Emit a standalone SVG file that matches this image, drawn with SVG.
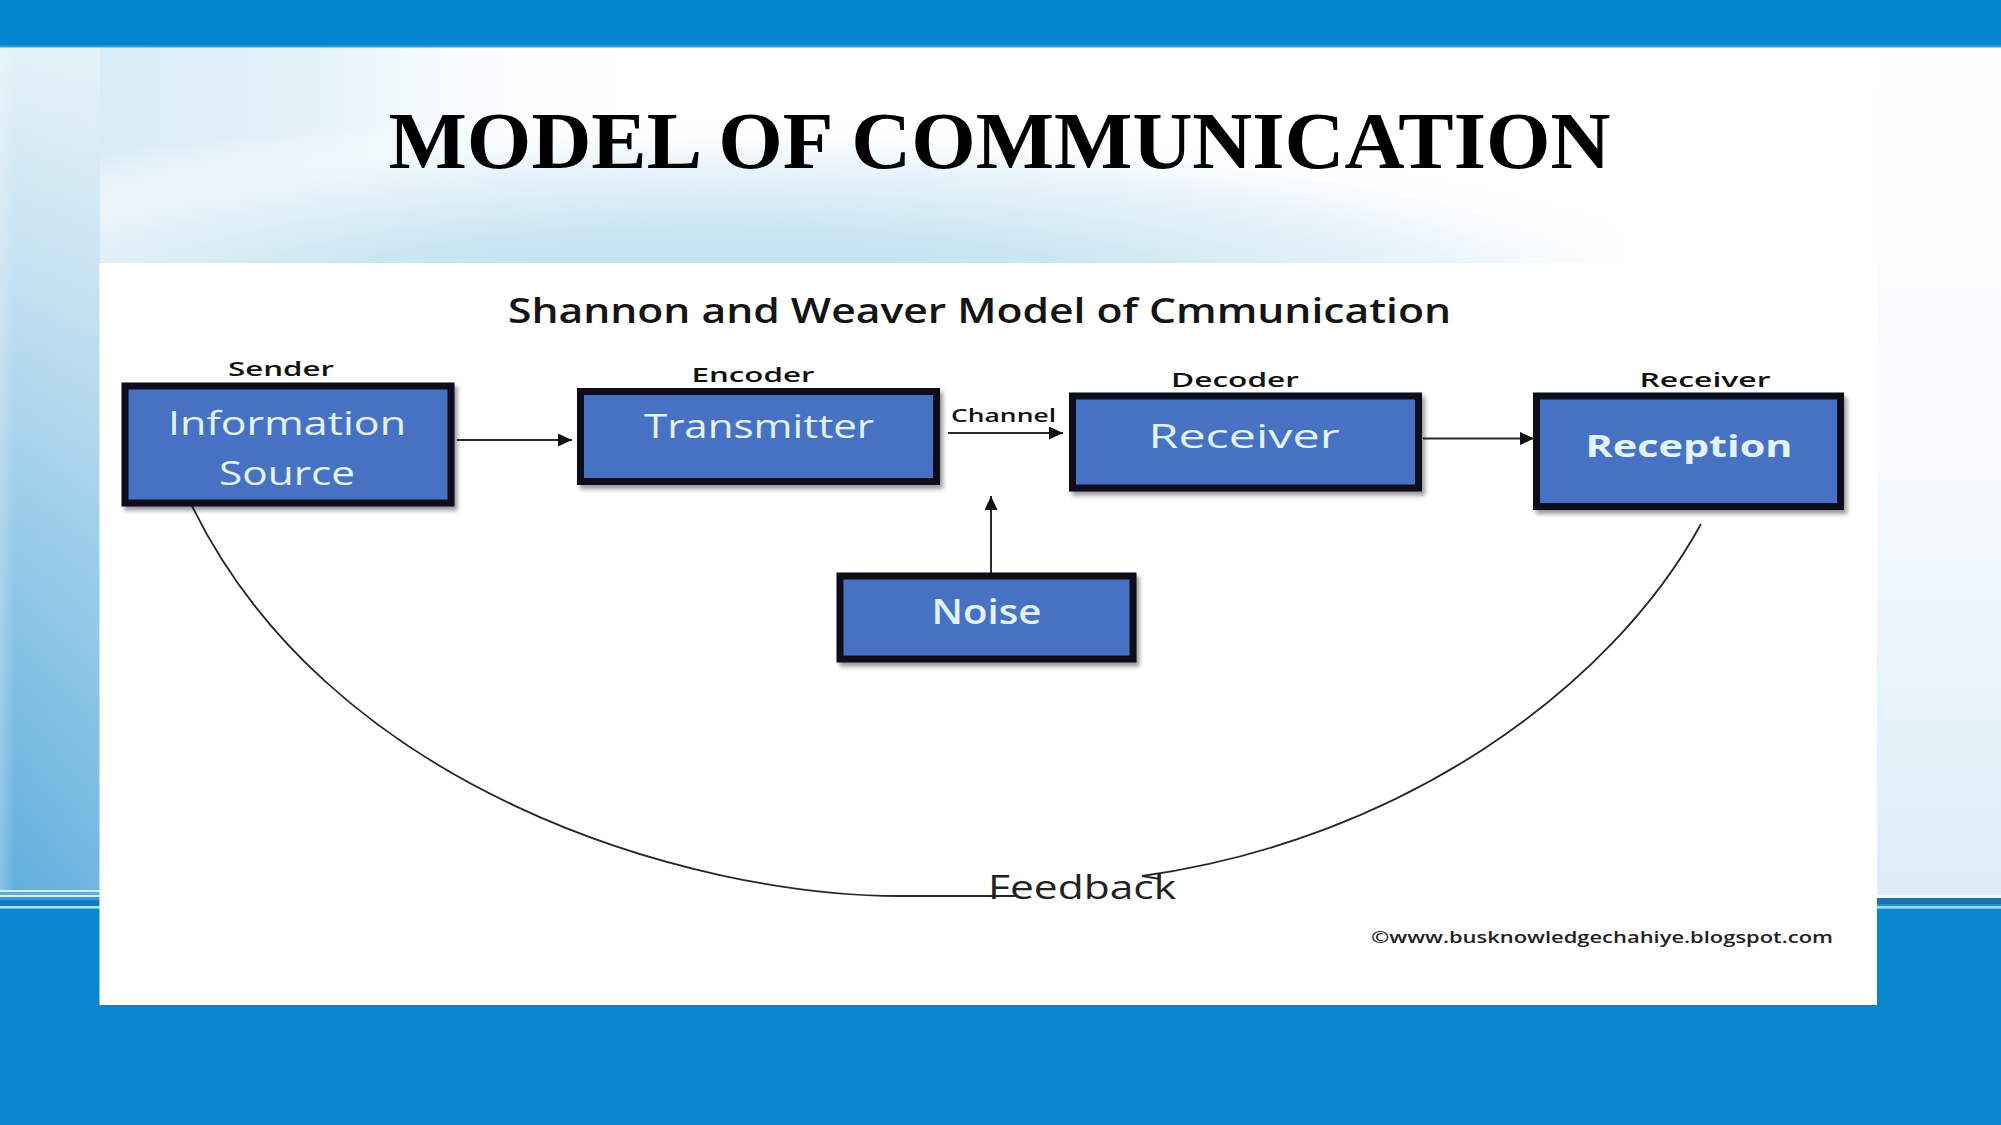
<svg xmlns="http://www.w3.org/2000/svg" width="2001" height="1125" viewBox="0 0 2001 1125">
  <style>
    .box { fill: #4672c4; stroke: #0c0c1e; stroke-width: 7; filter: url(#shadow); }
    .boxtxt { font-family: "Open Sans", "Liberation Sans", sans-serif; fill: #e3f3fb; text-anchor: middle; }
    .lbl { font-family: "Open Sans", "Liberation Sans", sans-serif; font-weight: 600; fill: #111; text-anchor: middle; font-size: 20px; }
    .conn { stroke: #2a2a2a; stroke-width: 2; fill: none; }
    .fb { stroke: #262626; stroke-width: 1.8; fill: none; }
  </style>
  <defs>
    <marker id="arrow" markerUnits="userSpaceOnUse" markerWidth="15" markerHeight="13" refX="14" refY="6.5" orient="auto">
      <path d="M0,0 L14,6.5 L0,13 z" fill="#111"/>
    </marker>
    <filter id="shadow" x="-10%" y="-10%" width="125%" height="130%">
      <feDropShadow dx="3" dy="4" stdDeviation="2" flood-color="#000" flood-opacity="0.4"/>
    </filter>
    <radialGradient id="wash" cx="0.44" cy="0.88" r="0.64">
      <stop offset="0" stop-color="#b9ddef"/>
      <stop offset="0.4" stop-color="#cbe6f3"/>
      <stop offset="0.75" stop-color="#eaf5fb"/>
      <stop offset="1" stop-color="#ffffff" stop-opacity="0"/>
    </radialGradient>
    <linearGradient id="topLeft" x1="0" y1="0" x2="1" y2="0">
      <stop offset="0" stop-color="#d2e9f5"/>
      <stop offset="0.5" stop-color="#e6f3fa"/>
      <stop offset="1" stop-color="#ffffff" stop-opacity="0"/>
    </linearGradient>
    <linearGradient id="leftStrip" x1="0" y1="0" x2="0" y2="1">
      <stop offset="0" stop-color="#e4f2f9"/>
      <stop offset="0.25" stop-color="#c6e2f1"/>
      <stop offset="0.6" stop-color="#93c9e7"/>
      <stop offset="1" stop-color="#62afdd"/>
    </linearGradient>
    <linearGradient id="leftFade" x1="0" y1="0" x2="1" y2="0">
      <stop offset="0" stop-color="#ffffff" stop-opacity="0.25"/>
      <stop offset="0.15" stop-color="#ffffff" stop-opacity="0"/>
      <stop offset="1" stop-color="#ffffff" stop-opacity="0.1"/>
    </linearGradient>
    <linearGradient id="rightStrip" x1="0" y1="0" x2="0" y2="1">
      <stop offset="0" stop-color="#ffffff"/>
      <stop offset="0.5" stop-color="#f6fafd"/>
      <stop offset="1" stop-color="#dcedf8"/>
    </linearGradient>
  </defs>

  <!-- background -->
  <rect x="0" y="0" width="2001" height="1125" fill="#ffffff"/>
  <rect x="0" y="47" width="650" height="300" fill="url(#topLeft)"/>
  <rect x="0" y="47" width="1620" height="290" fill="url(#wash)"/>
  <rect x="0" y="47" width="100" height="843" fill="url(#leftStrip)"/>
  <rect x="0" y="47" width="100" height="843" fill="url(#leftFade)"/>
  <rect x="1877" y="47" width="124" height="850" fill="url(#rightStrip)"/>

  <!-- top bar -->
  <rect x="0" y="0" width="2001" height="47" fill="#0385cf"/>
  <rect x="0" y="45.5" width="2001" height="2" fill="#3c9fd9"/>

  <!-- bottom stripes left -->
  <rect x="0" y="890" width="100" height="2" fill="#cdeefa"/>
  <rect x="0" y="892" width="100" height="3" fill="#62acd9"/>
  <rect x="0" y="895" width="100" height="2" fill="#d2f1fb"/>
  <rect x="0" y="897" width="100" height="3" fill="#3d98d0"/>
  <rect x="0" y="900" width="100" height="6" fill="#0d7cc4"/>
  <rect x="0" y="906" width="100" height="2.5" fill="#a7e6f8"/>
  <!-- bottom stripes right -->
  <rect x="1877" y="895" width="124" height="3" fill="#f5fbfe"/>
  <rect x="1877" y="898" width="124" height="6" fill="#1b74ae"/>
  <rect x="1877" y="904" width="124" height="2" fill="#2a8bc7"/>
  <rect x="1877" y="906" width="124" height="2.5" fill="#93def4"/>
  <!-- bottom band -->
  <rect x="0" y="908.5" width="2001" height="216.5" fill="#0886ce"/>

  <!-- slide title -->
  <text x="999.5" y="168" font-family="'Liberation Serif', 'Times New Roman', serif" font-weight="bold" font-size="81" text-anchor="middle" textLength="1222" lengthAdjust="spacingAndGlyphs" fill="#000">MODEL OF COMMUNICATION</text>

  <!-- picture panel -->
  <rect x="99.5" y="263" width="1777.5" height="742" fill="#ffffff"/>

  <text x="979.5" y="323" font-family="'Open Sans', 'Liberation Sans', sans-serif" font-weight="600" font-size="35" text-anchor="middle" textLength="943" lengthAdjust="spacingAndGlyphs" fill="#141414">Shannon and Weaver Model of Cmmunication</text>

  <!-- connectors -->
  <g id="connectors">
    <line class="conn" x1="457" y1="440" x2="572" y2="440" marker-end="url(#arrow)"/>
    <line class="conn" x1="948" y1="433" x2="1063" y2="433" marker-end="url(#arrow)"/>
    <line class="conn" x1="1423" y1="438.5" x2="1534" y2="438.5" marker-end="url(#arrow)"/>
    <line class="conn" x1="991" y1="573" x2="991" y2="496" marker-end="url(#arrow)"/>
    <path class="fb" d="M185,491 C320,790 690,896 900,896 L1015,896"/>
    <path class="fb" d="M1701,524 C1610,690 1400,840 1142,876 L1160,879"/>
  </g>

  <!-- nodes -->
  <g id="node-sender">
    <text class="lbl" x="281" y="376" textLength="106" lengthAdjust="spacingAndGlyphs">Sender</text>
    <rect class="box" x="125" y="386" width="326" height="117"/>
    <text class="boxtxt" x="287" y="435" font-size="32" textLength="238" lengthAdjust="spacingAndGlyphs">Information</text>
    <text class="boxtxt" x="287" y="485" font-size="32" textLength="136" lengthAdjust="spacingAndGlyphs">Source</text>
  </g>

  <g id="node-encoder">
    <text class="lbl" x="753" y="382" textLength="123" lengthAdjust="spacingAndGlyphs">Encoder</text>
    <rect class="box" x="580.5" y="391.5" width="356" height="90"/>
    <text class="boxtxt" x="759" y="438" font-size="32" textLength="230" lengthAdjust="spacingAndGlyphs">Transmitter</text>
  </g>

  <g id="label-channel">
    <text class="lbl" x="1003.5" y="422" style="font-size:18px" textLength="105" lengthAdjust="spacingAndGlyphs">Channel</text>
  </g>

  <g id="node-decoder">
    <text class="lbl" x="1235" y="387" textLength="128" lengthAdjust="spacingAndGlyphs">Decoder</text>
    <rect class="box" x="1072.5" y="396" width="346" height="92"/>
    <text class="boxtxt" x="1244" y="448" font-size="33" textLength="191" lengthAdjust="spacingAndGlyphs">Receiver</text>
  </g>

  <g id="node-receiver">
    <text class="lbl" x="1705" y="387" textLength="131" lengthAdjust="spacingAndGlyphs">Receiver</text>
    <rect class="box" x="1536.5" y="396" width="304" height="110.5"/>
    <text class="boxtxt" x="1689" y="457" font-size="30" font-weight="bold" textLength="207" lengthAdjust="spacingAndGlyphs">Reception</text>
  </g>

  <g id="node-noise">
    <rect class="box" x="840" y="576" width="293" height="83"/>
    <text class="boxtxt" x="986.5" y="624" font-size="34" font-weight="600" textLength="110" lengthAdjust="spacingAndGlyphs">Noise</text>
  </g>

  <g id="label-feedback">
    <text x="988" y="899" font-family="'Open Sans', 'Liberation Sans', sans-serif" font-size="32" textLength="188" lengthAdjust="spacingAndGlyphs" fill="#222">Feedback</text>
  </g>

  <text x="1371" y="943" font-family="'Open Sans', 'Liberation Sans', sans-serif" font-weight="600" font-size="17" textLength="462" lengthAdjust="spacingAndGlyphs" fill="#222">©www.busknowledgechahiye.blogspot.com</text>
</svg>
